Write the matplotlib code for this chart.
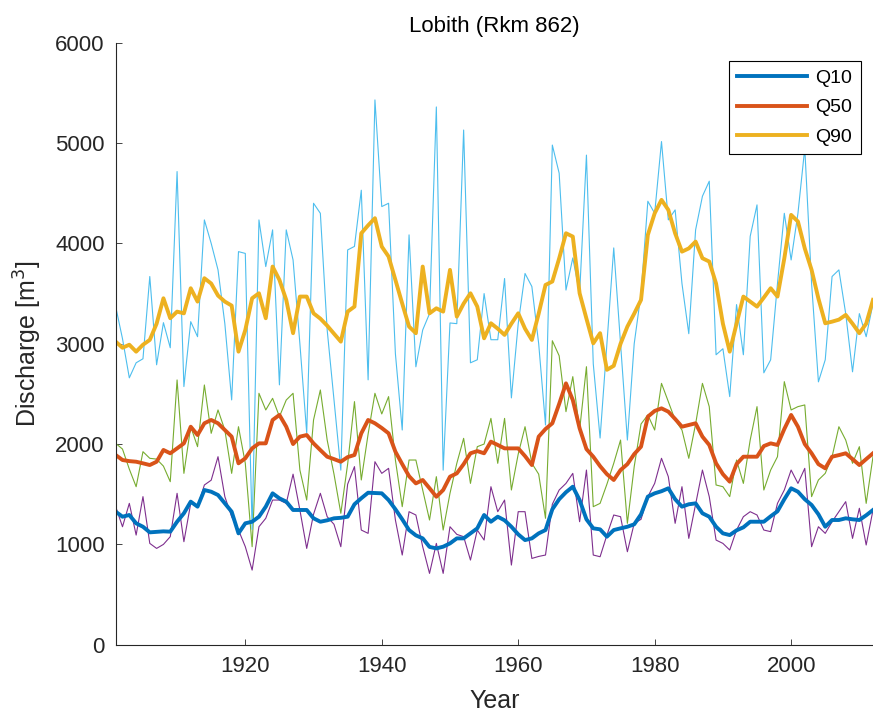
import numpy as np
import matplotlib.pyplot as plt

plt.rcParams['font.family'] = ['Liberation Sans', 'DejaVu Sans']

years = np.arange(1901, 2013)

# annual discharge (thin lines)
q10_raw = [1376, 1176, 1409, 1093, 1476, 1010, 960, 1000, 1077, 1509,
           1027, 1409, 1376, 1592, 1640, 1874, 1476, 1276, 1143, 977,
           744, 1176, 1260, 1442, 1442, 1409, 1700, 1343, 960, 1300,
           1509, 1276, 1200, 977, 1600, 1775, 1143, 1110, 1824, 1708,
           1758, 1243, 894, 1326, 1293, 977, 711, 1010, 711, 1176,
           1100, 1077, 844, 1143, 1043, 1575, 1326, 1442, 794, 1326,
           1326, 860, 880, 894, 1400, 1542, 1608, 1708, 1226, 1741,
           894, 877, 1093, 1293, 1276, 927, 1210, 1250, 1476, 1608,
           1858, 1675, 1210, 1575, 1060, 1400, 1741, 1476, 1043, 1010,
           944, 1143, 1276, 1326, 1293, 1143, 1127, 1409, 1542, 1741,
           1608, 1758, 977, 1176, 1110, 1226, 1326, 1426, 1060, 1360,
           994, 1343]
q50_raw = [2007, 1950, 1750, 1575, 1924, 1858, 1850, 1780, 1625, 2639,
           1708, 2173, 1974, 2589, 2107, 2340, 2140, 1708, 2173, 1808,
           977, 2506, 2340, 2456, 2273, 2439, 2506, 1741, 1442, 2240,
           2539, 2040, 1700, 1310, 1800, 2423, 1642, 2100, 2506, 2300,
           2473, 1841, 1376, 1841, 1841, 1542, 1243, 1675, 1143, 1509,
           1808, 2057, 1608, 1974, 2000, 2256, 1808, 2256, 1542, 1900,
           2173, 1808, 1700, 1260, 3030, 2880, 2323, 2672, 2140, 2771,
           1376, 1409, 1600, 1808, 2040, 1210, 1775, 2200, 2290, 2140,
           2605, 2423, 2240, 2140, 1858, 2200, 2605, 2373, 1592, 1575,
           1476, 1841, 1608, 2040, 2373, 1542, 1741, 1874, 2622, 2340,
           2373, 2390, 1476, 1642, 1708, 1874, 2173, 2040, 1808, 1974,
           1409, 1874]
q90_raw = [3370, 3050, 2660, 2810, 2850, 3670, 2790, 3210, 2960, 4716,
           2573, 3220, 3070, 4234, 4000, 3736, 3200, 2440, 3918, 3900,
           1150, 4234, 3769, 4135, 2590, 4135, 3835, 3000, 2110, 4400,
           4300, 3137, 2440, 1740, 3935, 3970, 4530, 2640, 5430, 4367,
           4400, 2900, 2140, 4085, 2770, 3137, 3300, 5360, 1740, 3207,
           3200, 5130, 2810, 2840, 3500, 3040, 3040, 3650, 2460, 3200,
           3700, 3570, 3000, 2190, 4980, 4700, 3535, 3855, 3500, 4880,
           2800, 2060, 3000, 3955, 3000, 2040, 3000, 3500, 4420, 4300,
           5015, 4234, 4334, 3600, 3100, 4135, 4470, 4620, 2890, 2950,
           2473, 3390, 2890, 4070, 4384, 2710, 2840, 3600, 4300, 3835,
           4300, 4950, 3600, 2620, 2840, 3670, 3736, 3300, 2720, 3300,
           3070, 3400]

# smoothed percentiles (thick lines)
q10 = [1326, 1276, 1293, 1210, 1176, 1120, 1125, 1130, 1127, 1226,
       1310, 1426, 1376, 1542, 1525, 1492, 1409, 1326, 1110, 1210,
       1226, 1276, 1376, 1509, 1459, 1426, 1343, 1343, 1343, 1260,
       1226, 1240, 1260, 1265, 1276, 1400, 1460, 1515, 1512, 1509,
       1442, 1350, 1250, 1143, 1090, 1060, 975, 960, 977, 1010,
       1060, 1060, 1110, 1160, 1293, 1226, 1276, 1240, 1176, 1100,
       1043, 1060, 1110, 1143, 1350, 1450, 1520, 1575, 1442, 1250,
       1160, 1150, 1077, 1143, 1160, 1176, 1200, 1300, 1476, 1509,
       1530, 1559, 1450, 1376, 1400, 1409, 1310, 1276, 1176, 1110,
       1093, 1140, 1170, 1226, 1226, 1226, 1280, 1330, 1450, 1559,
       1525, 1450, 1393, 1300, 1176, 1243, 1243, 1260, 1250, 1243,
       1290, 1343]
q50 = [1891, 1841, 1830, 1824, 1808, 1791, 1824, 1941, 1908, 1957,
       2007, 2173, 2090, 2207, 2240, 2207, 2140, 2074, 1808, 1858,
       1957, 2007, 2007, 2240, 2290, 2173, 2000, 2074, 2090, 2007,
       1940, 1874, 1850, 1824, 1870, 1891, 2107, 2240, 2207, 2160,
       2107, 1924, 1800, 1680, 1608, 1642, 1560, 1475, 1542, 1675,
       1708, 1800, 1908, 1930, 1908, 2024, 1991, 1957, 1957, 1957,
       1880, 1791, 2074, 2150, 2207, 2400, 2605, 2439, 2157, 1950,
       1874, 1780, 1700, 1642, 1741, 1800, 1900, 1974, 2273, 2330,
       2356, 2323, 2250, 2173, 2190, 2207, 2074, 1991, 1808, 1700,
       1625, 1800, 1874, 1874, 1874, 1980, 2007, 1991, 2150, 2290,
       2173, 2000, 1908, 1800, 1758, 1874, 1890, 1908, 1850, 1791,
       1850, 1908]
q90 = [3021, 2960, 2990, 2921, 2990, 3038, 3200, 3453, 3254, 3320,
       3303, 3553, 3420, 3653, 3600, 3480, 3420, 3380, 2921, 3137,
       3453, 3503, 3254, 3769, 3636, 3437, 3105, 3470, 3470, 3303,
       3250, 3180, 3100, 3021, 3320, 3370, 4101, 4180, 4251, 3968,
       3869, 3636, 3400, 3171, 3105, 3769, 3303, 3353, 3320, 3736,
       3270, 3400, 3503, 3370, 3054, 3204, 3150, 3088, 3200, 3303,
       3150, 3038, 3300, 3586, 3620, 3850, 4101, 4068, 3503, 3250,
       3004, 3105, 2740, 2780, 3000, 3171, 3300, 3437, 4085, 4300,
       4434, 4334, 4100, 3918, 3950, 4018, 3852, 3819, 3600, 3200,
       2921, 3200, 3470, 3420, 3370, 3460, 3553, 3470, 3850, 4284,
       4218, 3950, 3736, 3450, 3204, 3220, 3240, 3287, 3200, 3105,
       3200, 3437]

fig = plt.figure(figsize=(8.73, 7.17), dpi=100)
ax = fig.add_axes([0.1325, 0.1008, 0.8675, 0.8396])

ax.plot(years, q10_raw, color='#7E2F8E', lw=0.8)
ax.plot(years, q50_raw, color='#77AC30', lw=0.8)
ax.plot(years, q90_raw, color='#4DBEEE', lw=0.8)
ax.plot(years, q10, color='#0072BD', lw=2.8, label='Q10')
ax.plot(years, q50, color='#D95319', lw=2.8, label='Q50')
ax.plot(years, q90, color='#EDB120', lw=2.8, label='Q90')

ax.set_xlim(1901, 2012)
ax.set_ylim(0, 6000)
ax.set_xticks([1920, 1940, 1960, 1980, 2000])
ax.set_yticks(range(0, 6001, 1000))
for s in ['top', 'right']:
    ax.spines[s].set_visible(False)
for s in ['left', 'bottom']:
    ax.spines[s].set_color('#262626')
    ax.spines[s].set_linewidth(0.8)
ax.tick_params(direction='in', length=4, width=0.6, colors='#262626',
               labelsize=16, pad=8)

ax.set_title('Lobith (Rkm 862)', fontsize=16, color='black', pad=8)
ax.set_xlabel('Year', fontsize=18, color='#262626', labelpad=9)
ax.set_ylabel('Discharge [m$^3$]', fontsize=18, color='#262626', labelpad=8)

leg = ax.legend(loc='upper right', bbox_to_anchor=(0.984, 0.970),
                borderaxespad=0, fontsize=14, handlelength=3.6,
                fancybox=False, framealpha=1, edgecolor='black',
                borderpad=0.45, labelspacing=0.6, handletextpad=0.4)
leg.get_frame().set_linewidth(0.8)

plt.savefig('out.png', dpi=100)
